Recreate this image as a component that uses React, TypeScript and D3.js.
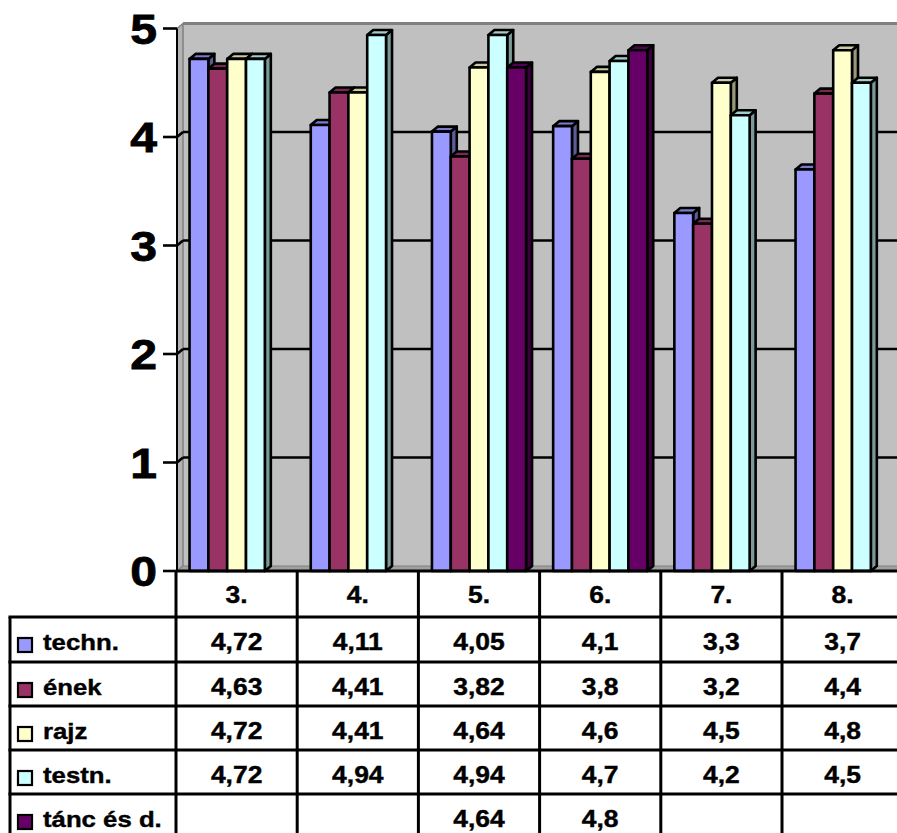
import React from "react";
import * as d3 from "d3";

const categories = ["3.", "4.", "5.", "6.", "7.", "8."];
const seriesNames = ["techn.", "ének", "rajz", "testn.", "tánc és d."];
const seriesColors = ["#9999FF", "#993366", "#FFFFCC", "#CCFFFF", "#660066"];
const techn = [4.72, 4.11, 4.05, 4.1, 3.3, 3.7];
const enek = [4.63, 4.41, 3.82, 3.8, 3.2, 4.4];
const rajz = [4.72, 4.41, 4.64, 4.6, 4.5, 4.8];
const testn = [4.72, 4.94, 4.94, 4.7, 4.2, 4.5];
const tanc: (number | null)[] = [null, null, 4.64, 4.8, null, null];
const seriesValues: (number | null)[][] = [techn, enek, rajz, testn, tanc];
const yTicks = [0, 1, 2, 3, 4, 5];

const W = 897;
const H = 833;
const FONT = "'Liberation Sans', Arial, sans-serif";

export default function App() {
  const x0 = d3.scaleBand<string>().domain(categories).range([176, 176 + 121.2 * 6]).padding(0);
  const x1 = d3
    .scaleBand<string>()
    .domain(seriesNames)
    .range([0, x0.bandwidth()])
    .paddingInner(0)
    .paddingOuter(0.72);
  const y = d3.scaleLinear().domain([0, 5]).range([571, 28.5]);
  const dx = 6;
  const dy = -5;
  const y0 = y(0);
  const rowTops = [571, 617, 662, 706, 750, 794];
  const rowBottom = 840;
  const tableLeft = 10;

  const fmt = (v: number | null) => (v == null ? "" : String(v).replace(".", ","));

  const bars: React.ReactNode[] = [];
  categories.forEach((c, ci) => {
    seriesNames.forEach((s, si) => {
      const v = seriesValues[si][ci];
      if (v == null) return;
      const col = d3.rgb(seriesColors[si]);
      const top = d3.rgb(col.r * 0.8, col.g * 0.8, col.b * 0.8).toString();
      const side = d3.rgb(col.r * 0.6, col.g * 0.6, col.b * 0.6).toString();
      const x = (x0(c) as number) + (x1(s) as number);
      const w = x1.bandwidth();
      const yv = y(v);
      bars.push(
        <g key={`${ci}-${si}`} stroke="#000" strokeWidth={2.6} strokeLinejoin="round">
          <polygon
            points={`${x + w},${yv} ${x + w + dx},${yv + dy} ${x + w + dx},${y0 + dy} ${x + w},${y0}`}
            fill={side}
          />
          <polygon
            points={`${x},${yv} ${x + dx},${yv + dy} ${x + w + dx},${yv + dy} ${x + w},${yv}`}
            fill={top}
          />
          <rect x={x} y={yv} width={w} height={y0 - yv} fill={seriesColors[si]} />
        </g>
      );
    });
  });

  const axisX = 177;
  const textProps = { fontSize: 23, fontWeight: "bold" as const, fill: "#000", stroke: "#000", strokeWidth: 0.4 };

  return (
    <div style={{ position: "fixed", left: 0, top: 0, width: W, height: H, background: "#fff" }}>
      <svg width={W} height={H} style={{ display: "block", fontFamily: FONT }}>
        {/* back wall */}
        <rect x={axisX + dx} y={y(5) + dy} width={W} height={y0 - y(5)} fill="#C0C0C0" />
        {/* left side wall */}
        <polygon
          points={`${axisX},${y(5)} ${axisX + dx},${y(5) + dy} ${axisX + dx},${y0 + dy} ${axisX},${y0}`}
          fill="#B4B4B4"
          stroke="#808080"
          strokeWidth={1.5}
        />
        {/* floor */}
        <polygon
          points={`${axisX},${y0} ${axisX + dx},${y0 + dy} ${W + 10},${y0 + dy} ${W + 10},${y0}`}
          fill="#A0A0A0"
          stroke="#808080"
          strokeWidth={1}
        />
        {/* wall top border */}
        <line x1={axisX + dx} x2={W} y1={y(5) + dy} y2={y(5) + dy} stroke="#808080" strokeWidth={3} />
        {/* gridlines */}
        {yTicks.filter((t) => t > 0 && t < 5).map((t) => (
          <g key={t} stroke="#000" strokeWidth={2.6}>
            <line x1={axisX + dx} x2={W} y1={y(t) + dy} y2={y(t) + dy} />
            <line x1={axisX} x2={axisX + dx} y1={y(t)} y2={y(t) + dy} />
          </g>
        ))}
        {/* axis line and ticks */}
        <line x1={axisX} x2={axisX} y1={y(5)} y2={y0} stroke="#000" strokeWidth={2} />
        {yTicks.map((t) => (
          <g key={t}>
            <line x1={163} x2={axisX} y1={y(t)} y2={y(t)} stroke="#000" strokeWidth={2.6} />
            <text
              transform={`translate(157,${y(t) + 15}) scale(1.12,1)`}
              textAnchor="end"
              fontSize={43}
              fontWeight="bold"
              fill="#000"
              stroke="#000"
              strokeWidth={0.8}
            >
              {t}
            </text>
          </g>
        ))}
        {bars}
        {/* data table */}
        <g stroke="#000" strokeWidth={3}>
          <line x1={axisX - 1} x2={W} y1={571} y2={571} />
          {rowTops.slice(1).map((r) => (
            <line key={r} x1={tableLeft - 1.5} x2={W} y1={r} y2={r} />
          ))}
          <line x1={tableLeft} x2={tableLeft} y1={617} y2={rowBottom} />
          {categories.map((c) => (
            <line key={c} x1={x0(c)!} x2={x0(c)!} y1={571} y2={rowBottom} />
          ))}
        </g>
        {categories.map((c) => (
          <text
            key={c}
            transform={`translate(${x0(c)! + x0.bandwidth() / 2},${571 + 32}) scale(1.15,1)`}
            textAnchor="middle"
            {...textProps}
          >
            {c}
          </text>
        ))}
        {seriesNames.map((s, si) => {
          const top = rowTops[si + 1];
          return (
            <g key={s}>
              <rect x={18} y={top + 21} width={14} height={14} fill={seriesColors[si]} stroke="#000" strokeWidth={2.2} />
              <text transform={`translate(43,${top + 33}) scale(1.12,1)`} {...textProps}>
                {s}
              </text>
              {categories.map((c, ci) => (
                <text
                  key={c}
                  transform={`translate(${x0(c)! + x0.bandwidth() / 2},${top + 33}) scale(1.15,1)`}
                  textAnchor="middle"
                  {...textProps}
                >
                  {fmt(seriesValues[si][ci])}
                </text>
              ))}
            </g>
          );
        })}
      </svg>
    </div>
  );
}
